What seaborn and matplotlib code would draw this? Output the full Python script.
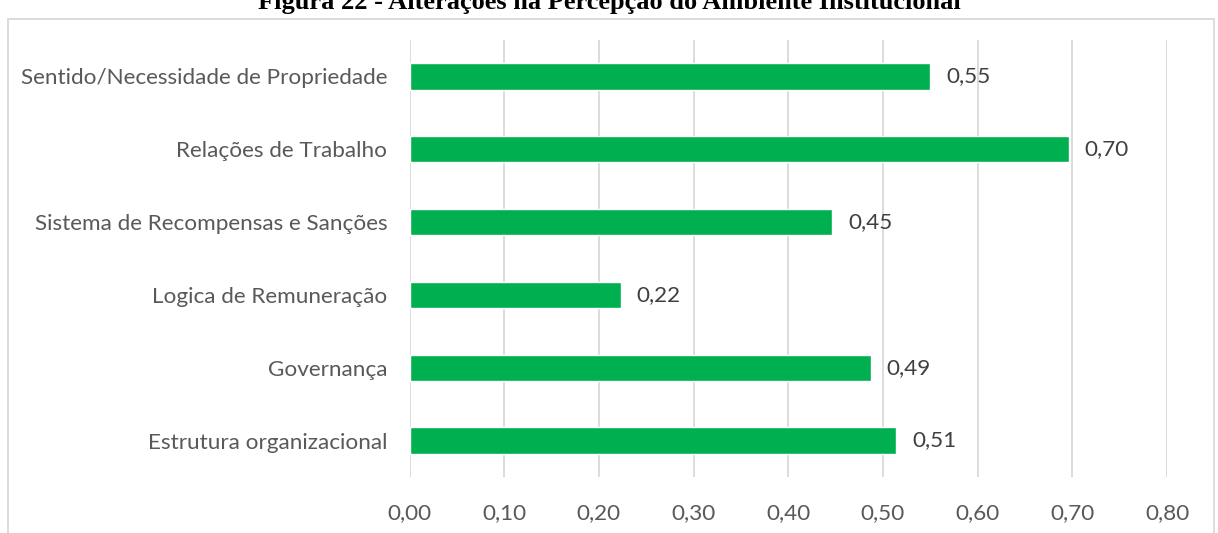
import pandas as pd
import matplotlib.pyplot as plt
import seaborn as sns
from matplotlib.patches import Rectangle

sns.set_style("white")
plt.rcParams['font.family'] = ['Lato', 'DejaVu Sans']

categorias = ["Sentido/Necessidade de Propriedade", "Relações de Trabalho",
              "Sistema de Recompensas e Sanções", "Logica de Remuneração",
              "Governança", "Estrutura organizacional"]
valores = [0.550, 0.696, 0.446, 0.223, 0.487, 0.514]
ticks = [0.0, 0.1, 0.2, 0.3, 0.4, 0.5, 0.6, 0.7, 0.8]

df = pd.DataFrame({"cat": categorias, "val": valores})

fig = plt.figure(figsize=(12.18, 5.33), dpi=100)
ax = fig.add_axes([409.5/1218, 1-477/533, (1167-409.5)/1218, 437/533])
sns.barplot(x="val", y="cat", data=df, ax=ax, color="#00B050", width=0.36,
            saturation=1, orient="h", zorder=3)

ax.set_xlim(0, 0.8)
ax.set_xticks(ticks)
ax.set_xticklabels([f"{t:.2f}".replace(".", ",") for t in ticks])
ax.set_xlabel("")
ax.set_ylabel("")
ax.grid(axis="x", color="#D9D9D9", lw=1.3, zorder=0)
for s in ax.spines.values():
    s.set_visible(False)
ax.tick_params(axis="x", length=0, pad=19, labelsize=16.2, labelcolor="#595959")
ax.tick_params(axis="y", length=0, pad=16, labelsize=16.2, labelcolor="#595959")

for i, v in enumerate(valores):
    ax.text(v + 0.017, i, f"{v:.2f}".replace(".", ","), va="center", ha="left",
            fontsize=16.2, color="#404040")

fig.patches.append(Rectangle((8/1218, -0.1), 1206/1218, 1.1 - 19/533,
                             transform=fig.transFigure, fill=False,
                             ec="#D9D9D9", lw=1.3))
fig.text(0.5, 1 - 9/533, "Figura 22 - Alterações na Percepção do Ambiente Institucional",
         ha="center", va="baseline", fontsize=19, fontweight="bold",
         family=["Liberation Serif"], color="black")

fig.savefig("out.png", dpi=100)
